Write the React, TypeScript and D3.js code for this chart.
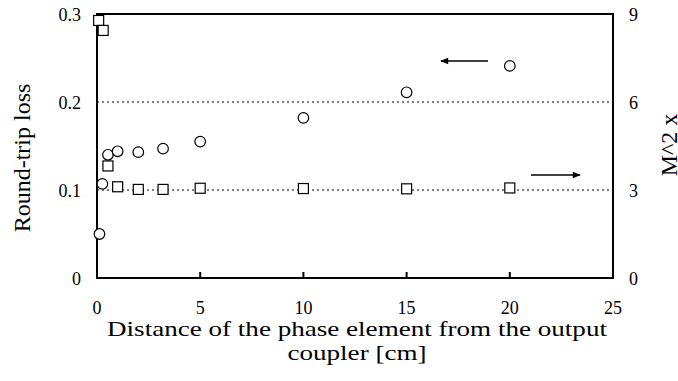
import React from "react";
import * as d3 from "d3";

const lossX = [0.12, 0.26, 0.53, 1, 2, 3.2, 5, 10, 15, 20];
const lossY = [0.05, 0.107, 0.14, 0.144, 0.143, 0.147, 0.155, 0.182, 0.211, 0.241];
const m2X = [0.08, 0.3, 0.53, 1, 2, 3.2, 5, 10, 15, 20];
const m2Y = [8.78, 8.44, 3.82, 3.11, 3.02, 3.02, 3.06, 3.05, 3.04, 3.07];
const xTicks = [0, 5, 10, 15, 20, 25];
const leftTicks = [0, 0.1, 0.2, 0.3];
const rightTicks = [0, 3, 6, 9];
const gridLines = [0.1, 0.2];

const W = 678, H = 381;
const L = 97, R = 613, T = 14, B = 278;
const font = "'Liberation Serif', 'DejaVu Serif', 'Noto Serif', 'Times New Roman', Times, serif";

function T2({ x, y, size, anchor = "start", rot = false, sx = 1, children }: any) {
  const tr = `translate(${x},${y}) scale(${sx},1)${rot ? " rotate(-90)" : ""}`;
  return (
    <text transform={tr} textAnchor={anchor} style={{ fontFamily: font, fontSize: size }} fill="#000">
      {children}
    </text>
  );
}

export default function App() {
  const x = d3.scaleLinear().domain([0, 25]).range([L, R]);
  const yL = d3.scaleLinear().domain([0, 0.3]).range([B, T]);
  const yR = d3.scaleLinear().domain([0, 9]).range([B, T]);
  const fmtL = (v: number) => (v === 0 ? "0" : d3.format(".1f")(v));
  return (
    <svg width={W} height={H} style={{ position: "absolute", left: 0, top: 0, background: "#fff" }}>
      <defs>
        <marker id="ah" viewBox="0 0 10 10" refX="9" refY="5" markerWidth="9" markerHeight="8" orient="auto-start-reverse" markerUnits="userSpaceOnUse">
          <path d="M0,1 L10,5 L0,9 Z" fill="#000" />
        </marker>
      </defs>
      {gridLines.map((g) => (
        <line key={g} x1={L} x2={R} y1={yL(g)} y2={yL(g)} stroke="#000" strokeWidth={1} strokeDasharray="2,3" />
      ))}
      <rect x={L} y={T} width={R - L} height={B - T} fill="none" stroke="#000" strokeWidth={2} />
      {xTicks.slice(1, -1).map((t) => (
        <line key={t} x1={x(t)} x2={x(t)} y1={B} y2={B - 6} stroke="#000" strokeWidth={2} />
      ))}
      {xTicks.map((t) => (
        <T2 key={t} x={x(t)} y={314} size={18} anchor="middle">{t}</T2>
      ))}
      {leftTicks.map((t) => (
        <T2 key={t} x={81} y={yL(t) + 7} size={18} anchor="end">{fmtL(t)}</T2>
      ))}
      {rightTicks.map((t) => (
        <T2 key={t} x={629} y={yR(t) + 7} size={18} anchor="start">{t}</T2>
      ))}
      <T2 x={30} y={158} size={24} anchor="middle" rot>Round-trip loss</T2>
      <T2 x={677} y={145} size={24} anchor="middle" rot>M^2 x</T2>
      <T2 x={357} y={336} size={21.5} sx={1.26} anchor="middle">Distance of the phase element from the output</T2>
      <T2 x={357} y={360} size={21.5} sx={1.26} anchor="middle">coupler [cm]</T2>
      {lossX.map((v, i) => (
        <circle key={"c" + i} cx={x(v)} cy={yL(lossY[i])} r={5.3} fill="#fff" stroke="#000" strokeWidth={1.2} />
      ))}
      {m2X.map((v, i) => (
        <rect key={"s" + i} x={x(v) - 5} y={yR(m2Y[i]) - 5} width={10} height={10} fill="#fff" stroke="#000" strokeWidth={1.2} />
      ))}
      <line x1={488} x2={441} y1={61} y2={61} stroke="#000" strokeWidth={1.3} markerEnd="url(#ah)" />
      <line x1={531} x2={580} y1={175} y2={175} stroke="#000" strokeWidth={1.3} markerEnd="url(#ah)" />
    </svg>
  );
}
